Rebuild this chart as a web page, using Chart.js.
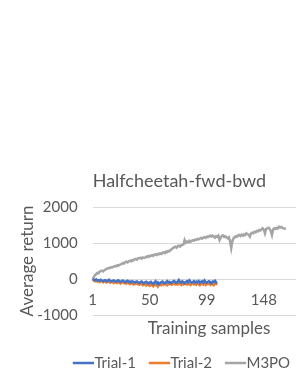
<!DOCTYPE html>
<html>
<head>
<meta charset="utf-8">
<script src="https://cdn.jsdelivr.net/npm/chart.js@4.4.1/dist/chart.umd.min.js"></script>
<style>
  html, body { margin: 0; padding: 0; background: #fff; overflow: hidden; }
  #wrap { width: 296px; height: 383px; overflow: hidden; }
</style>
</head>
<body>
<div id="wrap"><canvas id="chart" width="338" height="383" style="width:338px;height:383px"></canvas></div>
<script>
// sample index 1..201 on the category axis
var xLabels = [];
for (var i = 1; i <= 201; i++) xLabels.push(String(i));

var yTicks = [-1000, 0, 1000, 2000];

var trial1 = [
  0, -20, -35, -10, -40, -30, -55, -25, -45, -60,
  -40, -30, -65, -50, -20, -45, -70, -55, -40, -60,
  -75, -50, -35, -65, -80, -55, -45, -70, -90, -60,
  -50, -85, -70, -95, -60, -75, -100, -80, -65, -90,
  -110, -85, -70, -95, -120, -90, -75, -105, -130, -95,
  -80, -115, -140, -100, -60, -120, -95, -150, -110, -85,
  -70, -105, -125, -90, -60, -100, -80, -115, -95, -70,
  -50, -90, -110, -75, -30, -85, -100, -65, -95, -120,
  -80, -60, -95, -40, -75, -105, -85, -60, -100, -70,
  -90, -55, -110, -80, -65, -95, -40, -85, -105, -75,
  -60, -90, -120, -70, -85, -50, -95, -80
];

var trial2 = [
  0, -40, -60, -30, -70, -50, -80, -45, -65, -90,
  -60, -75, -95, -55, -80, -100, -70, -85, -110, -75,
  -90, -115, -80, -100, -125, -95, -85, -120, -105, -130,
  -95, -115, -140, -110, -125, -150, -100, -135, -120, -145,
  -160, -125, -140, -170, -135, -155, -180, -140, -165, -190,
  -150, -170, -200, -145, -175, -160, -210, -150, -135, -170,
  -140, -160, -125, -150, -175, -130, -145, -120, -160, -135,
  -115, -150, -130, -155, -120, -140, -165, -125, -150, -110,
  -135, -155, -120, -145, -170, -130, -115, -150, -135, -160,
  -125, -145, -170, -120, -140, -155, -130, -165, -120, -145,
  -135, -160, -115, -150, -175, -130, -140, -110
];

var m3po = [
  0, 60, 110, 140, 170, 160, 200, 222, 230, 210,
  245, 260, 280, 297, 310, 300, 330, 320, 342, 360,
  350, 380, 365, 395, 408, 420, 445, 430, 470, 481,
  460, 495, 510, 490, 528, 515, 545, 560, 540, 575,
  574, 590, 565, 600, 585, 593, 620, 610, 640, 625,
  648, 660, 640, 675, 686, 670, 700, 686, 710, 695,
  725, 740, 720, 760, 745, 780, 770, 806, 830, 860,
  880, 898, 870, 910, 925, 900, 935, 944, 960, 1083,
  1010, 1040, 1020, 1060, 1035, 1056, 1080, 1065, 1095, 1085,
  1111, 1100, 1125, 1140, 1120, 1148, 1160, 1140, 1175, 1165,
  1190, 1203, 1180, 1210, 1175, 1148, 1190, 1170, 1203, 1083,
  1150, 1200, 1210, 1170, 1185, 1150, 1130, 1160, 1050, 860,
  1050, 1130, 1160, 1190, 1175, 1210, 1222, 1195, 1230, 1203,
  1240, 1220, 1269, 1245, 1230, 1175, 1260, 1285, 1270, 1314,
  1300, 1335, 1320, 1361, 1345, 1380, 1407, 1370, 1269, 1390,
  1410, 1425, 1395, 1330, 1222, 1380, 1407, 1390, 1420, 1400,
  1453, 1430, 1445, 1420, 1407, 1400, 1390
];

var textColor = "#595959";
var gridColor = "#d9d9d9";
var fontFamily = "Lato, 'Liberation Sans', sans-serif";

function series(label, data, color){
	return {
		label: label,
		data: data,
		xAxisID: "x",
		borderColor: color,
		backgroundColor: color,
		borderWidth: 2.5,
		pointRadius: 0,
		tension: 0,
		fill: false
	};
}

var ctx = document.getElementById("chart").getContext("2d");
new Chart(ctx, {
	type: "line",
	data: {
		labels: xLabels,
		datasets: [
			series("Trial-1", trial1, "#4472C4"),
			series("Trial-2", trial2, "#ED7D31"),
			series("M3PO", m3po, "#A5A5A5")
		]
	},
	options: {
		responsive: false,
		devicePixelRatio: 1,
		animation: false,
		layout: { padding: { top: 170, left: 32, right: 0, bottom: 2.5 } },
		plugins: {
			tooltip: { enabled: false },
			title: {
				display: true,
				text: "Halfcheetah-fwd-bwd",
				fullSize: false,
				align: "start",
				color: textColor,
				font: { family: fontFamily, size: 18, weight: "normal" },
				padding: { top: 0, bottom: 15.4 }
			},
			legend: {
				position: "bottom",
				align: "center",
				labels: {
					usePointStyle: true,
					pointStyle: "line",
					boxWidth: 7,
					boxHeight: 15,
					padding: 20,
					color: textColor,
					font: { family: fontFamily, size: 15 }
				}
			}
		},
		scales: {
			x: {
				type: "category",
				position: { y: 0 },
				grid: { display: false, drawTicks: false },
				border: { display: false },
				ticks: {
					autoSkip: false,
					maxRotation: 0,
					minRotation: 0,
					padding: 12.5,
					color: textColor,
					font: { family: fontFamily, size: 15 },
					callback: function(value, index){
						return index % 49 === 0 ? xLabels[index] : "";
					}
				}
			},
			x2: {
				axis: "x",
				type: "category",
				position: "bottom",
				grid: { display: false, drawTicks: false },
				border: { display: false },
				ticks: { display: false },
				title: {
					display: true,
					text: "Training samples",
					color: textColor,
					font: { family: fontFamily, size: 17 },
					padding: { top: 3.3, bottom: -3.2 }
				}
			},
			y: {
				min: yTicks[0],
				max: yTicks[yTicks.length - 1],
				afterBuildTicks: function(axis){
					axis.ticks = yTicks.map(function(v){ return { value: v }; });
				},
				grid: { color: gridColor, lineWidth: 1, drawTicks: false },
				border: { display: false },
				ticks: {
					padding: 15,
					color: textColor,
					font: { family: fontFamily, size: 15 },
					callback: function(value){ return String(value); }
				},
				title: {
					display: true,
					text: "Average return",
					color: textColor,
					font: { family: fontFamily, size: 17 },
					padding: { top: -14.6, bottom: -15.5 }
				}
			}
		}
	}
});
</script>
</body>
</html>
